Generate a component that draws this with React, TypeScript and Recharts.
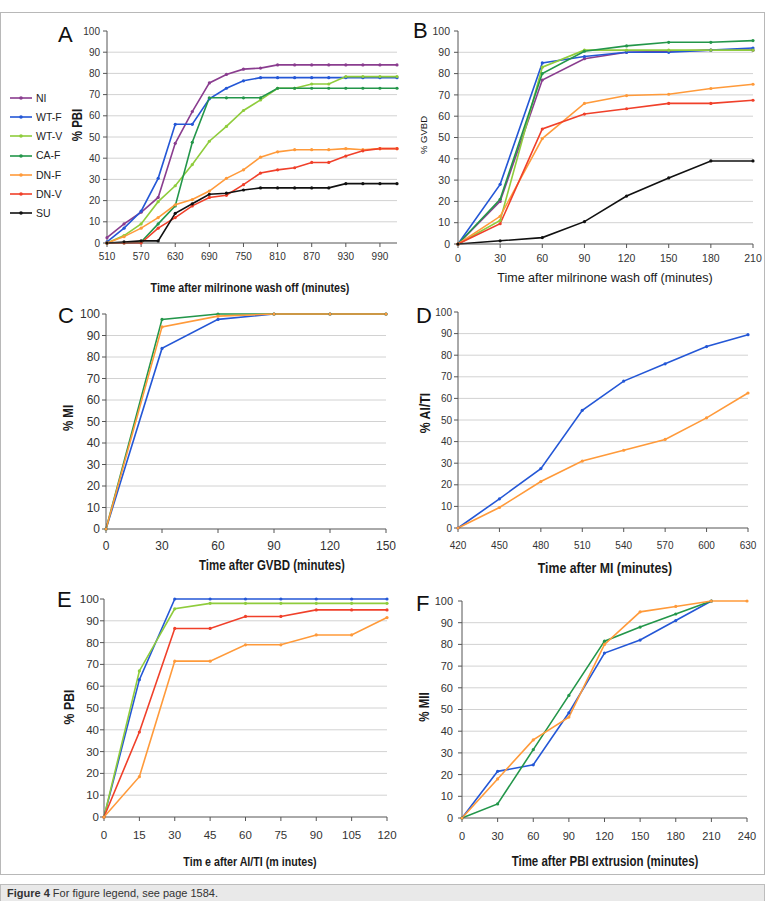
import React from "react"
import { LineChart, Line, XAxis, YAxis, ReferenceLine } from "recharts"

// ---- data ----
const aTimes = [510, 540, 570, 600, 630, 660, 690, 720, 750, 780, 810, 840, 870, 900, 930, 960, 990, 1020]
const aTicks = [510, 570, 630, 690, 750, 810, 870, 930, 990]
const aNI = [2.5, 9, 14.5, 21.5, 47, 62, 75.5, 79.5, 82, 82.5, 84, 84, 84, 84, 84, 84, 84, 84]
const aWTF = [0.5, 7, 15, 30.5, 56, 56, 68, 73, 76.5, 78, 78, 78, 78, 78, 78, 78, 78, 78]
const aWTV = [0, 3.5, 9, 19.5, 27, 37, 48, 55, 62.5, 67.5, 73, 73, 75, 75, 78.5, 78.5, 78.5, 78.5]
const aCAF = [0, 0, 0.5, 9, 17.5, 47.5, 68.5, 68.5, 68.5, 68.5, 73, 73, 73, 73, 73, 73, 73, 73]
const aDNF = [0, 3, 7, 12, 18, 20.5, 24.5, 30.5, 34.5, 40.5, 43, 44, 44, 44, 44.5, 44, 44.5, 44.5]
const aDNV = [0, 0, 0, 7, 12, 17.5, 21.5, 22.5, 27.5, 33, 34.5, 35.5, 38, 38, 41, 43.5, 44.5, 44.5]
const aSU = [0, 0.5, 1, 1, 14, 18.5, 23, 23.5, 25, 26, 26, 26, 26, 26, 28, 28, 28, 28]

const bTimes = [0, 30, 60, 90, 120, 150, 180, 210]
const bNI = [0, 20, 77, 87, 90, 90.5, 91, 91]
const bWTF = [0, 28, 85, 88, 90, 90, 91, 92]
const bWTV = [0, 11, 83, 91, 91, 91, 91, 91]
const bCAF = [0, 21, 80, 90.5, 93, 94.7, 94.7, 95.5]
const bDNF = [0, 13, 49.5, 66, 69.7, 70.3, 73, 75]
const bDNV = [0, 9.5, 54, 61, 63.5, 66, 66, 67.5]
const bSU = [0, 1.5, 3, 10.5, 22.5, 31, 39, 39]

const cTimes = [0, 30, 60, 90, 120, 150]
const cBlue = [0, 84, 97.5, 100, 100, 100]
const cGreen = [0, 97.5, 100, 100, 100, 100]
const cOrange = [0, 94, 99, 100, 100, 100]

const dTimes = [420, 450, 480, 510, 540, 570, 600, 630]
const dBlue = [0, 13.5, 27.5, 54.5, 68, 76, 84, 89.5]
const dOrange = [0, 9.5, 21.5, 31, 36, 41, 51, 62.5]

const eTimes = [0, 15, 30, 45, 60, 75, 90, 105, 120]
const eBlue = [0, 63, 100, 100, 100, 100, 100, 100, 100]
const eGreen = [0, 67, 95.5, 98, 98, 98, 98, 98, 98]
const eRed = [0, 39, 86.5, 86.5, 92, 92, 95, 95, 95]
const eOrange = [0, 18.5, 71.5, 71.5, 79, 79, 83.5, 83.5, 91.5]

const fTimes = [0, 30, 60, 90, 120, 150, 180, 210, 240]
const fBlue = [0, 21.5, 24.5, 48.5, 76, 82, 91, 100, null]
const fGreen = [0, 6.5, 31.5, 56.5, 81.5, 88, 94, 100, null]
const fOrange = [0, 18, 36, 46.5, 80, 95, 97.5, 100, 100]

const yTicks = [0, 10, 20, 30, 40, 50, 60, 70, 80, 90, 100]
const gridValues = [10, 20, 30, 40, 50, 60, 70, 80, 90]

const PURPLE = "#8a3d8f"
const BLUE = "#2457d6"
const LGREEN = "#8fcc3c"
const DGREEN = "#23964a"
const ORANGE = "#ff9a3a"
const RED = "#f0402a"
const BLACK = "#111111"

const FONT = '"Liberation Sans", Arial, sans-serif'

type Series = { name: string; color: string; values: (number | null)[] }
type Box = { left: number; top: number; right: number; bottom: number }

const aSeries: Series[] = [
  { name: "NI", color: PURPLE, values: aNI },
  { name: "WT-F", color: BLUE, values: aWTF },
  { name: "WT-V", color: LGREEN, values: aWTV },
  { name: "CA-F", color: DGREEN, values: aCAF },
  { name: "DN-F", color: ORANGE, values: aDNF },
  { name: "DN-V", color: RED, values: aDNV },
  { name: "SU", color: BLACK, values: aSU },
]
const bSeries: Series[] = [
  { name: "NI", color: PURPLE, values: bNI },
  { name: "WT-F", color: BLUE, values: bWTF },
  { name: "WT-V", color: LGREEN, values: bWTV },
  { name: "CA-F", color: DGREEN, values: bCAF },
  { name: "DN-F", color: ORANGE, values: bDNF },
  { name: "DN-V", color: RED, values: bDNV },
  { name: "SU", color: BLACK, values: bSU },
]

function Panel(props: {
  box: Box
  xs: number[]
  xTicks: number[]
  series: Series[]
  fontSize: number
  xMargin: number
  yMargin: number
}) {
  const { box, xs, xTicks, series, fontSize, xMargin, yMargin } = props
  const data = xs.map((x, i) => {
    const row: any = { x }
    series.forEach((s) => (row[s.name] = s.values[i]))
    return row
  })
  const w = box.right - box.left + 70
  const h = box.bottom - box.top + 50
  const tick = { fontSize, fontFamily: FONT, fill: "#333" }
  return (
    <div style={{ position: "absolute", left: box.left - 60, top: box.top - 10 }}>
      <LineChart width={w} height={h} data={data} margin={{ top: 10, right: 10, bottom: 10, left: 0 }}>
        {gridValues.map((v) => (
          <ReferenceLine key={v} y={v} stroke="#d2d2d2" strokeWidth={1} />
        ))}
        <XAxis
          dataKey="x"
          type="number"
          domain={[xs[0], xs[xs.length - 1]]}
          ticks={xTicks}
          interval={0}
          height={30}
          tickSize={4}
          tickMargin={xMargin}
          stroke="#555"
          tick={tick}
        />
        <YAxis
          type="number"
          domain={[0, 100]}
          ticks={yTicks}
          interval={0}
          width={60}
          tickSize={4}
          tickMargin={yMargin}
          stroke="#555"
          tick={tick}
        />
        {series.map((s) => (
          <Line
            key={s.name}
            dataKey={s.name}
            stroke={s.color}
            strokeWidth={1.6}
            dot={{ r: 1.6, fill: s.color, stroke: s.color, strokeWidth: 0 }}
            isAnimationActive={false}
          />
        ))}
      </LineChart>
    </div>
  )
}

// centred text; narrow=true squeezes it like the condensed bold face in the figure
function Txt(props: { x: number; y: number; rotate?: boolean; narrow?: boolean; style: React.CSSProperties; children: React.ReactNode }) {
  const t = `translate(-50%, -50%)${props.rotate ? " rotate(-90deg)" : ""}${props.narrow ? " scaleX(0.82)" : ""}`
  return (
    <div
      style={{
        position: "absolute",
        left: props.x,
        top: props.y,
        transform: t,
        whiteSpace: "nowrap",
        lineHeight: 1,
        color: "#1a1a1a",
        fontFamily: FONT,
        ...props.style,
      }}
    >
      {props.children}
    </div>
  )
}

const letter = (x: number, capTop: number, t: string) => (
  <div style={{ position: "absolute", left: x, top: capTop - 3, fontSize: 22, lineHeight: 1, fontFamily: FONT, color: "#111" }}>{t}</div>
)

const bold = (size: number): React.CSSProperties => ({ fontWeight: 700, fontSize: size })

export default function App() {
  return (
    <div style={{ position: "absolute", left: 0, top: 0, width: 770, height: 901, background: "#fff", overflow: "hidden" }}>
      <div style={{ position: "absolute", left: 0, top: 12, width: 765, height: 863, border: "1px solid #b8b8b8", boxSizing: "border-box" }} />

      {/* A */}
      <Panel box={{ left: 107, top: 31, right: 397, bottom: 243 }} xs={aTimes} xTicks={aTicks} series={aSeries} fontSize={10} xMargin={6} yMargin={3} />
      {aSeries.map((s, i) => (
        <div key={s.name} style={{ position: "absolute", left: 10, top: 98 + i * 19.2 - 6, height: 12, display: "flex", alignItems: "center" }}>
          <svg width={23} height={12}>
            <line x1={0} y1={6} x2={22} y2={6} stroke={s.color} strokeWidth={1.6} />
            <circle cx={11} cy={6} r={1.8} fill={s.color} />
          </svg>
          <span style={{ fontFamily: FONT, fontSize: 10.5, color: "#222", marginLeft: 3, lineHeight: 1 }}>{s.name}</span>
        </div>
      ))}
      {letter(58, 27, "A")}
      <Txt x={250} y={287} narrow style={bold(13)}>Time after milrinone wash off (minutes)</Txt>
      <Txt x={77} y={125} rotate narrow style={bold(14)}>% PBI</Txt>

      {/* B */}
      <Panel box={{ left: 458, top: 31, right: 753, bottom: 244 }} xs={bTimes} xTicks={bTimes} series={bSeries} fontSize={10.5} xMargin={7} yMargin={4} />
      {letter(413, 23, "B")}
      <Txt x={605} y={278} style={{ fontSize: 12.5 }}>Time after milrinone wash off (minutes)</Txt>
      <Txt x={424} y={135} rotate style={{ fontSize: 9.5 }}>% GVBD</Txt>

      {/* C */}
      <Panel
        box={{ left: 106, top: 314, right: 386, bottom: 529 }}
        xs={cTimes}
        xTicks={cTimes}
        series={[
          { name: "blue", color: BLUE, values: cBlue },
          { name: "green", color: DGREEN, values: cGreen },
          { name: "orange", color: ORANGE, values: cOrange },
        ]}
        fontSize={12}
        xMargin={8.5}
        yMargin={2}
      />
      {letter(58, 308, "C")}
      <Txt x={272} y={565} narrow style={bold(14)}>Time after GVBD (minutes)</Txt>
      <Txt x={68} y={418} rotate narrow style={bold(14)}>% MI</Txt>

      {/* D */}
      <Panel
        box={{ left: 458, top: 312, right: 748, bottom: 528 }}
        xs={dTimes}
        xTicks={dTimes}
        series={[
          { name: "blue", color: BLUE, values: dBlue },
          { name: "orange", color: ORANGE, values: dOrange },
        ]}
        fontSize={10}
        xMargin={10}
        yMargin={2}
      />
      {letter(416, 308, "D")}
      <Txt x={605} y={567} narrow style={bold(15)}>Time after MI (minutes)</Txt>
      <Txt x={424} y={413} rotate narrow style={bold(15)}>% AI/TI</Txt>

      {/* E */}
      <Panel
        box={{ left: 104, top: 599, right: 387, bottom: 817 }}
        xs={eTimes}
        xTicks={eTimes}
        series={[
          { name: "blue", color: BLUE, values: eBlue },
          { name: "green", color: LGREEN, values: eGreen },
          { name: "red", color: RED, values: eRed },
          { name: "orange", color: ORANGE, values: eOrange },
        ]}
        fontSize={11.5}
        xMargin={10}
        yMargin={1}
      />
      {letter(57, 592, "E")}
      <Txt x={250} y={861} narrow style={bold(13)}>Tim e after AI/TI (m inutes)</Txt>
      <Txt x={68} y={707} rotate narrow style={bold(15)}>% PBI</Txt>

      {/* F */}
      <Panel
        box={{ left: 462, top: 601, right: 747, bottom: 818 }}
        xs={fTimes}
        xTicks={fTimes}
        series={[
          { name: "blue", color: BLUE, values: fBlue },
          { name: "green", color: DGREEN, values: fGreen },
          { name: "orange", color: ORANGE, values: fOrange },
        ]}
        fontSize={11}
        xMargin={10}
        yMargin={5}
      />
      {letter(416, 596, "F")}
      <Txt x={605} y={861} narrow style={bold(14)}>Time after PBI extrusion (minutes)</Txt>
      <Txt x={424} y={707} rotate narrow style={bold(14)}>% MII</Txt>

      {/* caption */}
      <div
        style={{
          position: "absolute",
          left: 0,
          top: 884,
          width: 765,
          height: 30,
          background: "#e9e9e9",
          border: "1px solid #bdbdbd",
          boxSizing: "border-box",
          fontFamily: FONT,
          fontSize: 11,
          color: "#333",
          padding: "3px 6px",
          lineHeight: 1,
        }}
      >
        <b>Figure 4</b> For figure legend, see page 1584.
      </div>
    </div>
  )
}
